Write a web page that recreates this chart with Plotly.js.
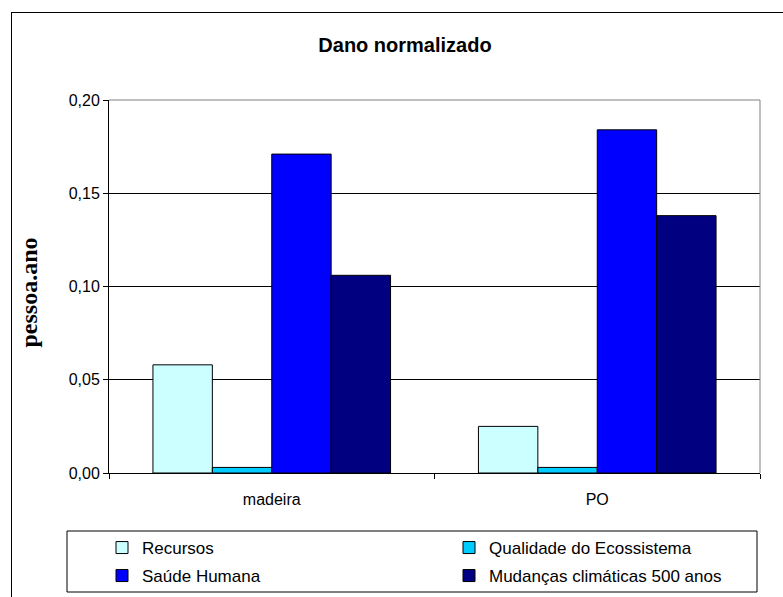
<!DOCTYPE html>
<html>
<head>
<meta charset="utf-8">
<script src="https://cdn.plot.ly/plotly-3.0.1.min.js"></script>
<style>
html, body { margin:0; padding:0; background:#fff; }
#frame { position:absolute; left:11px; top:12px; width:800px; height:600px; border-left:1px solid #000; border-top:1px solid #000; z-index:0; }
#chart { position:absolute; left:0; top:0; width:783px; height:597px; z-index:1; }
</style>
</head>
<body>
<div id="frame"></div>
<div id="chart"></div>
<script>
var categories = ["madeira", "PO"];
var seriesNames = ["Recursos", "Qualidade do Ecossistema", "Saúde Humana", "Mudanças climáticas 500 anos"];
var recursos = [0.058, 0.025];
var qualidade = [0.003, 0.003];
var saude = [0.171, 0.184];
var mudancas = [0.106, 0.138];
var colors = ["#CCFFFF", "#00CCFF", "#0000FF", "#000080"];
var yTicks = [0, 0.05, 0.10, 0.15, 0.20];

// pixel geometry helpers (plot area: x 109..760, y 100..473)
var L = 109, T = 100, PW = 651, PH = 373;
function px(x) { return (x - L) / PW; }
function py(y) { return (T + PH - y) / PH; }

var values = [recursos, qualidade, saude, mudancas];
var legendOf = ["legend", "legend", "legend2", "legend2"];
var traces = seriesNames.map(function(n, i) {
  return {
    type: "bar",
    name: n,
    x: categories,
    y: values[i],
    legend: legendOf[i],
    marker: { color: colors[i], line: { color: "#000", width: 1 } },
    hoverinfo: "x+y+name"
  };
});

var legendCommon = {
  orientation: "h",
  xanchor: "left", yanchor: "top",
  bgcolor: "rgba(0,0,0,0)",
  borderwidth: 0,
  font: { family: "Liberation Sans, Arial, sans-serif", size: 17, color: "#000" },
  entrywidth: 302, entrywidthmode: "pixels",
  traceorder: "normal"
};

var layout = {
  width: 783, height: 597,
  paper_bgcolor: "rgba(0,0,0,0)",
  plot_bgcolor: "#fff",
  margin: { l: 109, r: 23, t: 100, b: 124, autoexpand: false },
  barmode: "group",
  bargap: 0.27,
  bargroupgap: 0,
  separators: ",.",
  font: { family: "Liberation Sans, Arial, sans-serif", color: "#000", size: 16 },
  title: {
    text: "<b>Dano normalizado</b>",
    font: { family: "Liberation Sans, Arial, sans-serif", size: 20, color: "#000" },
    x: 405 / 783, xanchor: "center",
    y: 1 - 45 / 597, yanchor: "middle"
  },
  xaxis: {
    type: "category",
    automargin: false,
    showline: true, linecolor: "#000", linewidth: 1,
    ticks: "outside", tickson: "boundaries", ticklen: 5, tickcolor: "#000",
    tickfont: { size: 16 },
    ticklabelstandoff: 12,
    showgrid: false, zeroline: false
  },
  yaxis: {
    range: [0, 0.2],
    automargin: false,
    tickvals: yTicks,
    tickformat: ".2f",
    showline: true, linecolor: "#000", linewidth: 1,
    ticks: "outside", ticklen: 5, tickcolor: "#000",
    tickfont: { size: 16 },
    showgrid: true, gridcolor: "#000", gridwidth: 1,
    zeroline: false,
    title: {
      text: "<b>pessoa.ano</b>&nbsp;&nbsp;",
      font: { family: "Liberation Serif, Times New Roman, serif", size: 24, color: "#000" },
      standoff: 24
    }
  },
  shapes: [
    { type: "line", xref: "x domain", yref: "y domain", x0: 0, x1: 1, y0: 1, y1: 1, line: { color: "#808080", width: 1 }, layer: "above" },
    { type: "line", xref: "x domain", yref: "y domain", x0: 1, x1: 1, y0: 0, y1: 1, line: { color: "#808080", width: 1 }, layer: "above" },
    { type: "rect", xref: "paper", yref: "paper", x0: px(67), x1: px(757), y0: py(592), y1: py(531), line: { color: "#000", width: 1 }, fillcolor: "rgba(0,0,0,0)", layer: "above" }
  ],
  legend: Object.assign({}, legendCommon, { x: px(102), y: py(530) }),
  legend2: Object.assign({}, legendCommon, { x: px(102), y: py(558) }),
  showlegend: true
};

Plotly.newPlot("chart", traces, layout, { displayModeBar: false, staticPlot: true });
</script>
</body>
</html>
